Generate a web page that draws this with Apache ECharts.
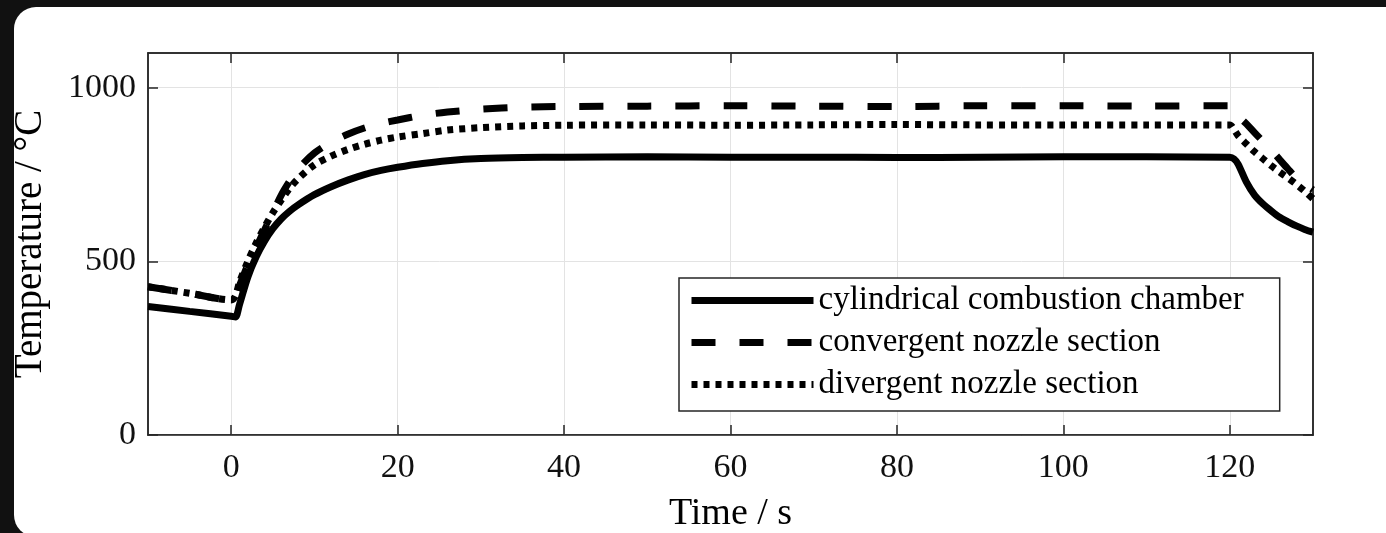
<!DOCTYPE html>
<html>
<head>
<meta charset="utf-8">
<script src="https://cdn.jsdelivr.net/npm/echarts@6/dist/echarts.min.js"></script>
<style>
  html, body { margin: 0; padding: 0; background: #111; overflow: hidden; }
  .card { position: absolute; left: 14px; top: 7px; width: 1400px; height: 530px; background: #fff; border-radius: 22px; }
  #chart { position: absolute; left: 0; top: 0; width: 1386px; height: 533px; }
</style>
</head>
<body>
<div class="card"></div>
<div id="chart"></div>
<script>
// time in s
const timeS = [-10, -5, 0, 0.5, 1, 2, 3, 4, 5, 6, 7, 8, 10, 12, 14, 16, 18, 20, 23, 26, 30, 35, 40,
  50, 60, 70, 80, 90, 100, 110, 120, 120.5, 121, 122, 123, 124, 125, 126, 127, 128, 129, 130];
// temperatures in degC
const cylindrical = [370, 356, 342, 340, 376, 455, 513, 558, 594, 622, 644, 662, 692, 715, 734, 750, 762, 771, 782, 790, 796, 799, 800,
  801, 800, 800, 799, 800, 801, 801, 800, 795, 780, 728, 690, 665, 645, 627, 614, 602, 592, 584];
const convergent = [427, 408, 389, 400, 430, 490, 540, 590, 640, 690, 730, 765, 812, 843, 866, 884, 897, 907, 921, 930, 938, 944, 946,
  947, 948, 947, 946, 948, 948, 947, 948, 945, 920, 896, 870, 845, 820, 793, 766, 740, 722, 706];
const divergent = [427, 408, 389, 400, 440, 500, 553, 598, 640, 676, 710, 737, 778, 803, 822, 837, 849, 858, 868, 878, 885, 890, 892,
  893, 892, 893, 894, 893, 893, 893, 893, 880, 862, 838, 815, 795, 775, 757, 740, 722, 702, 680];

const seriesNames = ['cylindrical combustion chamber', 'convergent nozzle section', 'divergent nozzle section'];
const xTicks = [0, 20, 40, 60, 80, 100, 120];
const yTicks = [0, 500, 1000];

const font = "'Liberation Serif', 'Times New Roman', serif";
const axisColor = '#262626';

const toPairs = vals => timeS.map((t, i) => [t, vals[i]]);

const chart = echarts.init(document.getElementById('chart'));

const makeLine = (name, vals, type) => ({
  name: name,
  type: 'line',
  data: toPairs(vals),
  symbol: 'none',
  showSymbol: false,
  smooth: 0.3,
  lineStyle: { color: '#000', width: 7, type: type, cap: 'butt' },
  itemStyle: { color: '#000' }
});

const frameAxis = (extra) => Object.assign({
  axisLine: { show: true, onZero: false, lineStyle: { color: axisColor, width: 1.5 } },
  axisLabel: { show: false },
  splitLine: { show: false }
}, extra);

const option = {
  animation: false,
  grid: {
    left: 148, right: 73, top: 53, bottom: 98,
    outerBoundsMode: 'none',
    show: true, borderColor: axisColor, borderWidth: 1.5, backgroundColor: 'transparent'
  },
  xAxis: [
    {
      type: 'value', min: -10, max: 130,
      name: 'Time / s', nameLocation: 'middle', nameGap: 60,
      nameTextStyle: { fontFamily: font, fontSize: 38, color: '#000' },
      axisLine: { show: true, onZero: false, lineStyle: { color: axisColor, width: 1.5 } },
      axisTick: { inside: true, length: 10, customValues: xTicks, lineStyle: { color: axisColor, width: 1.5 } },
      axisLabel: { customValues: xTicks, margin: 16, fontFamily: font, fontSize: 34, color: '#111' },
      splitLine: { show: true, lineStyle: { color: '#e3e3e3', width: 1 } }
    },
    frameAxis({
      type: 'value', min: -10, max: 130, position: 'top',
      axisTick: { inside: true, length: 10, customValues: xTicks, lineStyle: { color: axisColor, width: 1.5 } }
    })
  ],
  yAxis: [
    {
      type: 'value', min: 0, max: 1100, interval: 500,
      name: 'Temperature / °C', nameLocation: 'middle', nameGap: 98, nameRotate: 90,
      nameTextStyle: { fontFamily: font, fontSize: 39, color: '#000' },
      axisLine: { show: true, onZero: false, lineStyle: { color: axisColor, width: 1.5 } },
      axisTick: { inside: true, length: 10, customValues: yTicks, lineStyle: { color: axisColor, width: 1.5 } },
      axisLabel: { customValues: yTicks, margin: 12, fontFamily: font, fontSize: 34, color: '#111',
        formatter: v => String(v) },
      splitLine: { show: true, lineStyle: { color: '#e3e3e3', width: 1 } }
    },
    frameAxis({
      type: 'value', min: 0, max: 1100, interval: 500, position: 'right',
      axisTick: { inside: true, length: 10, customValues: yTicks, lineStyle: { color: axisColor, width: 1.5 } }
    })
  ],
  legend: {
    orient: 'vertical',
    left: 679, top: 278,
    padding: [6, 36, 10, 9],
    itemGap: 9,
    itemWidth: 122, itemHeight: 10,
    selectedMode: false,
    backgroundColor: '#fff',
    borderColor: axisColor, borderWidth: 1.5, borderRadius: 0,
    lineStyle: { width: 7 },
    itemStyle: { opacity: 0 },
    textStyle: { fontFamily: font, fontSize: 33, color: '#000' },
    data: seriesNames
  },
  series: [
    makeLine(seriesNames[0], cylindrical, 'solid'),
    makeLine(seriesNames[1], convergent, [24, 24]),
    makeLine(seriesNames[2], divergent, [6, 6])
  ]
};

chart.setOption(option);
</script>
</body>
</html>
